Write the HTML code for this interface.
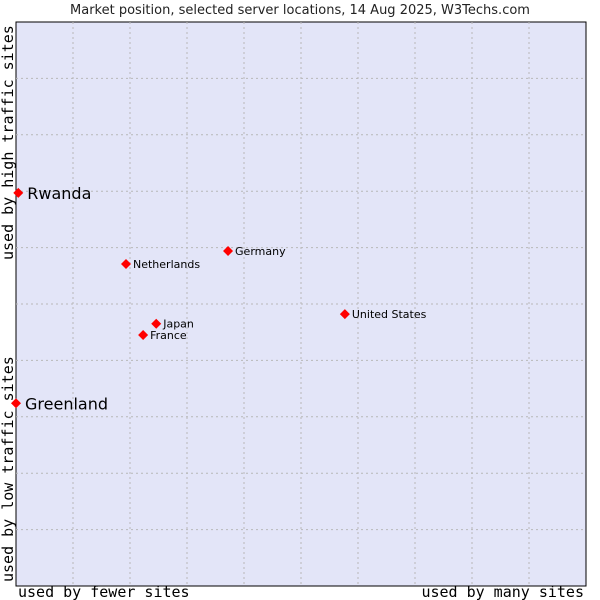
<!DOCTYPE html>
<html><head><meta charset="utf-8"><style>
body{margin:0;background:#fff;width:600px;height:600px;overflow:hidden}
svg{display:block}
</style></head><body>
<svg id="chart" width="600" height="600" xmlns="http://www.w3.org/2000/svg">
<text x="300" y="14" text-anchor="middle" font-family="'DejaVu Sans',sans-serif" font-size="13" fill="#222">Market position, selected server locations, 14 Aug 2025, W3Techs.com</text>
<rect x="16" y="22" width="570" height="564" fill="#e3e5f8" stroke="#000" stroke-width="1"/>
<g id="grid"></g>
<g id="points"></g>
<text x="18" y="597" font-family="'DejaVu Sans Mono','Liberation Mono',monospace" font-size="15" fill="#000">used by fewer sites</text>
<text x="584" y="597" text-anchor="end" font-family="'DejaVu Sans Mono','Liberation Mono',monospace" font-size="15" fill="#000">used by many sites</text>
<text transform="translate(13,582) rotate(-90)" font-family="'DejaVu Sans Mono','Liberation Mono',monospace" font-size="15" fill="#000">used by low traffic sites</text>
<text transform="translate(13,260) rotate(-90)" font-family="'DejaVu Sans Mono','Liberation Mono',monospace" font-size="15" fill="#000">used by high traffic sites</text>
</svg>
<script>
const names=["Rwanda","Greenland","Netherlands","Germany","United States","Japan","France"];
const xVals=[0.4,0,19.3,37.2,57.7,24.6,22.3];
const yVals=[69.7,32.4,57.1,59.4,48.2,46.5,44.5];
const bigLabel=[true,true,false,false,false,false,false];
const gridSteps=[1,2,3,4,5,6,7,8,9];
const X0=16,X1=586,Y0=586,Y1=22;
const sx=v=>X0+v/100*(X1-X0);
const sy=v=>Y0-v/100*(Y0-Y1);
const NS="http://www.w3.org/2000/svg";
const grid=document.getElementById('grid');
gridSteps.forEach(s=>{
  const v=document.createElementNS(NS,'line');
  
  
  v.setAttribute('x1',sx(s*10));v.setAttribute('x2',sx(s*10));v.setAttribute('y1',Y1);v.setAttribute('y2',Y0);
  v.setAttribute('stroke','#b8b8b8');v.setAttribute('stroke-dasharray','2,3');
  grid.appendChild(v);
  const h=document.createElementNS(NS,'line');
  
  
  h.setAttribute('y1',sy(s*10));h.setAttribute('y2',sy(s*10));h.setAttribute('x1',X0);h.setAttribute('x2',X1);
  h.setAttribute('stroke','#b8b8b8');h.setAttribute('stroke-dasharray','2,3');
  grid.appendChild(h);
});
const pts=document.getElementById('points');
names.forEach((n,i)=>{
  const x=sx(xVals[i]),y=sy(yVals[i]);
  const c=document.createElementNS(NS,'path');
  
  
  c.setAttribute('d',`M${x} ${y-5}L${x+5} ${y}L${x} ${y+5}L${x-5} ${y}Z`);
  c.setAttribute('fill','#f00');
  pts.appendChild(c);
  const t=document.createElementNS(NS,'text');
  
  
  t.setAttribute('x',x+(bigLabel[i]?9:7));
  t.setAttribute('y',y+(bigLabel[i]?6:4));
  t.setAttribute('font-family',"'DejaVu Sans',sans-serif");
  t.setAttribute('font-size',bigLabel[i]?16:11);
  t.setAttribute('fill','#000');
  t.textContent=n;
  pts.appendChild(t);
});
</script>
</body></html>
